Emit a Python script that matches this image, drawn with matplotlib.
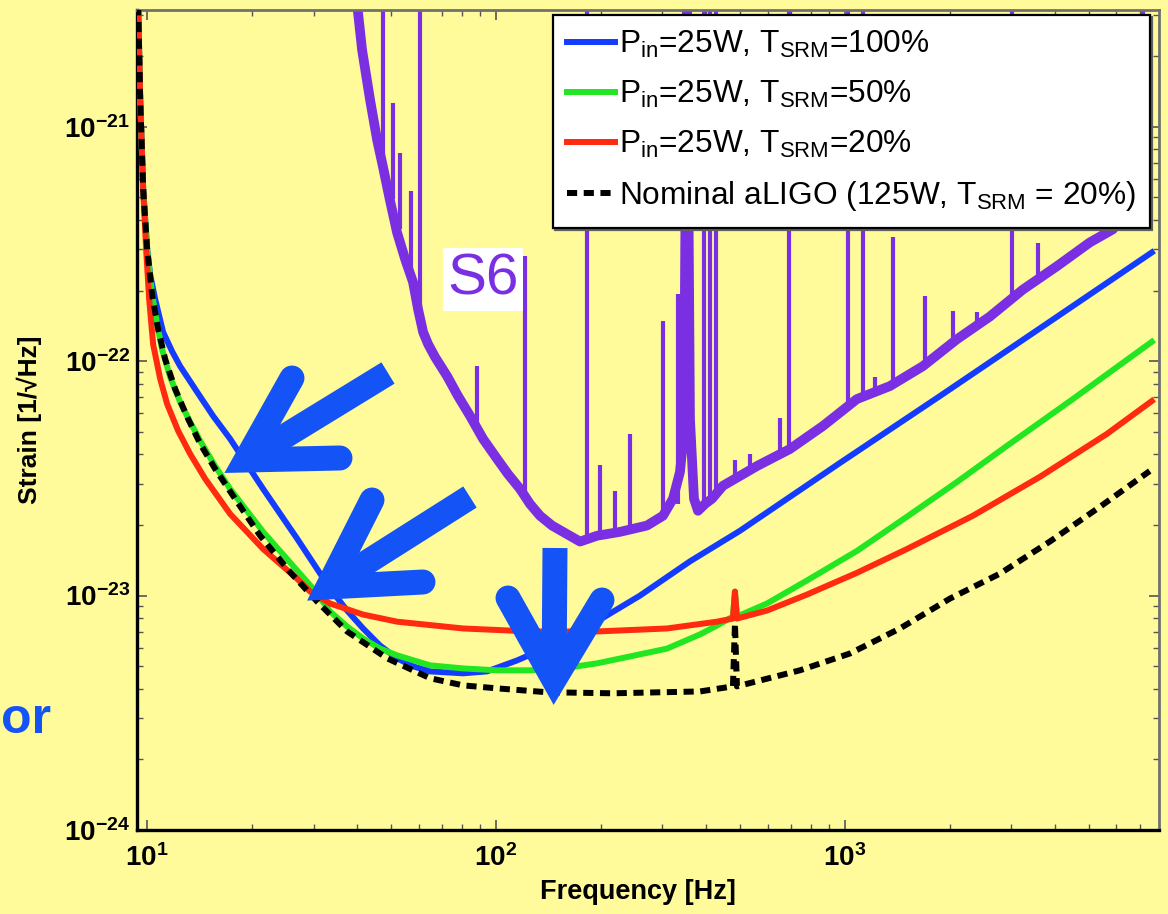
import numpy as np
import matplotlib.pyplot as plt
from matplotlib.lines import Line2D

plt.rcParams['font.family'] = ['Liberation Sans', 'DejaVu Sans']
plt.rcParams['mathtext.fontset'] = 'custom'
plt.rcParams['mathtext.rm'] = 'Liberation Sans'
plt.rcParams['mathtext.it'] = 'Liberation Sans:italic'
plt.rcParams['mathtext.bf'] = 'Liberation Sans:bold'

# noise curves (frequency in Hz, strain in 1/rtHz)
blue_f = [9.42, 9.55, 9.74, 10.0, 10.20, 10.54, 11.11, 11.79, 12.43, 13.91, 15.46, 17.29, 21.50, 26.90,
          33.45, 37.42, 41.58, 46.52, 52.03, 57.83, 64.71, 80.43, 94.23, 114.9, 127.6, 155.6, 198.6,
          258.6, 359.7, 500.2, 967.6, 1872, 3621, 7581]
blue_h = [3.3e-21, 1.30e-21, 5.40e-22, 3.00e-22, 2.34e-22, 1.84e-22, 1.33e-22, 1.10e-22, 9.52e-23,
          7.38e-23, 5.83e-23, 4.66e-23, 2.85e-23, 1.75e-23, 1.07e-23, 8.63e-24, 7.24e-24, 6.12e-24,
          5.40e-24, 4.99e-24, 4.75e-24, 4.66e-24, 4.75e-24, 5.29e-24, 5.66e-24, 6.56e-24, 7.90e-24,
          1.0e-23, 1.40e-23, 1.89e-23, 3.68e-23, 7.10e-23, 1.38e-22, 2.91e-22]

green_f = [9.42, 9.55, 9.74, 10.0, 10.33, 10.68, 11.04, 11.64, 12.43, 13.28, 14.19, 15.66, 17.29, 21.50,
           26.90, 29.90, 33.45, 37.42, 41.58, 46.52, 52.03, 64.71, 80.43, 100.7, 125.1, 155.6, 194.7,
           242.1, 309.0, 384.2, 429.8, 477.6, 484.0, 490.4, 597.7, 778.3, 1082, 1506, 2094, 2912,
           4501, 7581]
green_h = [3.3e-21, 1.30e-21, 5.40e-22, 3.00e-22, 1.93e-22, 1.44e-22, 1.12e-22, 8.55e-23, 6.69e-23,
           5.50e-23, 4.57e-23, 3.57e-23, 2.85e-23, 1.87e-23, 1.28e-23, 1.07e-23, 8.55e-24, 7.38e-24,
           6.56e-24, 5.94e-24, 5.56e-24, 5.04e-24, 4.89e-24, 4.80e-24, 4.80e-24, 4.89e-24, 5.14e-24,
           5.50e-24, 5.94e-24, 6.83e-24, 7.45e-24, 8.14e-24, 1.04e-23, 8.14e-24, 9.25e-24, 1.16e-23,
           1.55e-23, 2.17e-23, 3.05e-23, 4.35e-23, 6.89e-23, 1.21e-22]

red_f = [9.42, 9.55, 9.74, 9.93, 10.13, 10.40, 10.90, 11.41, 12.27, 13.28, 14.66, 17.29, 21.50, 26.90,
         29.31, 33.45, 41.58, 52.03, 80.43, 125.1, 194.7, 309.0, 429.8, 477.6, 484.0, 490.4, 597.7,
         778.3, 1082, 1506, 2327, 3621, 5632, 7581]
red_h = [3.3e-21, 1.30e-21, 5.40e-22, 3.00e-22, 1.84e-22, 1.18e-22, 8.38e-23, 6.56e-23, 5.04e-23,
         4.02e-23, 3.15e-23, 2.23e-23, 1.58e-23, 1.18e-23, 1.04e-23, 9.25e-24, 8.30e-24, 7.74e-24,
         7.24e-24, 7.03e-24, 7.03e-24, 7.24e-24, 7.74e-24, 7.98e-24, 1.04e-23, 7.98e-24, 8.63e-24,
         1.01e-23, 1.25e-23, 1.58e-23, 2.19e-23, 3.21e-23, 4.89e-23, 6.76e-23]

nominal_f = [9.42, 9.55, 9.74, 10.0, 10.33, 10.75, 11.26, 12.03, 13.02, 14.19, 15.66, 18.11, 21.08,
             25.68, 30.70, 37.42, 48.72, 64.71, 80.43, 100.7, 140.0, 216.4, 384.2, 477.6, 484.0, 490.4,
             743.2, 1033, 1438, 2000, 2780, 3867, 5379, 7478]
nominal_h = [3.3e-21, 1.30e-21, 5.40e-22, 3.00e-22, 1.93e-22, 1.37e-22, 1.02e-22, 7.60e-23, 5.78e-23,
             4.44e-23, 3.47e-23, 2.51e-23, 1.80e-23, 1.26e-23, 9.43e-24, 7.03e-24, 5.40e-24, 4.44e-24,
             4.14e-24, 4.02e-24, 3.87e-24, 3.83e-24, 3.90e-24, 4.10e-24, 7.60e-24, 4.10e-24, 4.80e-24,
             5.66e-24, 7.24e-24, 9.71e-24, 1.24e-23, 1.70e-23, 2.39e-23, 3.40e-23]

# S6 measured sensitivity: broadband floor + narrow lines
s6_f = [39.45, 41.3, 43.55, 45.6, 47.4, 49.6, 52.03, 54.9, 57.83, 59.8, 61.8, 63.9, 66.9, 72.4, 77.8,
        84.3, 91.8, 100.7, 108.2, 117.2, 125.1, 133.7, 144.7, 155.6, 174.1, 194.7, 226.6, 270.8,
        300.9, 321.5, 336.7, 345.7, 352.6, 359.7, 369.3, 379.2, 397.2, 415.9, 447.0, 559.8, 695.7,
        865.0, 1082, 1346, 1673, 2094, 2603, 3236, 4050, 5035, 5861, 6053]
s6_h = [4e-21, 2.13e-21, 1.30e-21, 8.81e-22, 6.76e-22, 4.89e-22, 3.54e-22, 2.72e-22, 2.17e-22,
        1.66e-22, 1.33e-22, 1.18e-22, 1.04e-22, 8.63e-23, 7.10e-23, 5.83e-23, 4.66e-23, 3.83e-23,
        3.30e-23, 2.85e-23, 2.46e-23, 2.19e-23, 1.99e-23, 1.87e-23, 1.70e-23, 1.80e-23, 1.87e-23,
        1.99e-23, 2.19e-23, 2.59e-23, 3.37e-23, 4.99e-23, 4e-21, 5.66e-23, 2.59e-23, 2.30e-23,
        2.46e-23, 2.59e-23, 2.94e-23, 3.57e-23, 4.22e-23, 5.29e-23, 6.89e-23, 7.83e-23, 9.52e-23,
        1.24e-22, 1.55e-22, 2.02e-22, 2.54e-22, 3.21e-22, 3.65e-22, 3.94e-22]

line_f = [47.5, 50.7, 53.1, 57.1, 60.6, 88.2, 121.1, 182.3, 198.6, 219.3, 242.1, 300.9, 332.3, 352.6,
          394.5, 410.5, 427.1, 483.8, 534.2, 651.3, 691.0, 1020, 1126, 1219, 1373, 1695, 2039, 2389,
          3009, 3573, 7143]
line_top = [5e-21, 1.26e-21, 7.7e-22, 5.3e-22, 5e-21, 9.5e-23, 2.8e-22, 5e-21, 3.6e-23, 2.8e-23,
            4.9e-23, 1.48e-22, 1.93e-22, 5e-21, 5e-21, 5e-21, 5e-21, 3.8e-23, 4.0e-23, 5.7e-23,
            5e-21, 5e-21, 5e-21, 8.6e-23, 3.4e-22, 1.89e-22, 1.63e-22, 1.62e-22, 5e-21, 3.2e-22, 5e-21]
line_base = [6.8e-22, 4.9e-22, 3.65e-22, 2.28e-22, 1.51e-22, 5.2e-23, 2.67e-23, 1.75e-23, 1.80e-23,
             1.84e-23, 1.89e-23, 2.19e-23, 2.46e-23, 4.66e-23, 2.34e-23, 2.46e-23, 2.67e-23, 3.08e-23,
             3.40e-23, 4.02e-23, 4.22e-23, 6.56e-23, 7.03e-23, 7.24e-23, 7.83e-23, 9.7e-23, 1.18e-22,
             1.37e-22, 1.87e-22, 2.28e-22, 4.23e-22]

labels = [r'P$_{\mathrm{in}}$=25W, T$_{\mathrm{SRM}}$=100%',
          r'P$_{\mathrm{in}}$=25W, T$_{\mathrm{SRM}}$=50%',
          r'P$_{\mathrm{in}}$=25W, T$_{\mathrm{SRM}}$=20%',
          r'Nominal aLIGO (125W, T$_{\mathrm{SRM}}$ = 20%)']

bg = '#FFFB9A'
arrow_col = '#1453F5'
purple = '#7B2FE2'

fig = plt.figure(figsize=(11.68, 9.14), dpi=100, facecolor=bg)
ax = fig.add_axes([0.1173, 0.0919, 0.875, 0.8972], facecolor=bg)

# S6 curve
ax.vlines(line_f, line_base, line_top, color=purple, lw=3.0, zorder=2)
ax.plot(s6_f, s6_h, color=purple, lw=7, solid_joinstyle='round', zorder=2)

ax.plot(blue_f, blue_h, color='#143CFF', lw=4.3, label=labels[0], zorder=3)
ax.plot(green_f, green_h, color='#22E622', lw=4.3, label=labels[1], zorder=3)
ax.plot(red_f, red_h, color='#FF2A10', lw=4.3, label=labels[2], zorder=3)
ax.plot(nominal_f, nominal_h, color='black', lw=4.3, ls=(0, (1.7, 1.1)), label=labels[3], zorder=4)

ax.set_xscale('log')
ax.set_yscale('log')
ax.set_xlim(9.35, 7950)
ax.set_ylim(1e-24, 3.15e-21)
ax.set_xticks([10, 100, 1000])
ax.set_yticks([1e-24, 1e-23, 1e-22, 1e-21])

ax.tick_params(which='both', direction='in', top=True, right=True, colors='#555555',
               labelcolor='black', labelsize=20)
ax.tick_params(which='major', length=7, width=1.2)
ax.tick_params(which='minor', length=4, width=1.0)
ax.tick_params(axis='x', pad=10)
ax.tick_params(axis='y', pad=5)
for lab in ax.get_xticklabels() + ax.get_yticklabels():
    lab.set_fontweight('bold')

for side in ['left', 'bottom']:
    ax.spines[side].set_color('black')
    ax.spines[side].set_linewidth(2.4)
for side in ['top', 'right']:
    ax.spines[side].set_color('#707070')
    ax.spines[side].set_linewidth(2.0)

ax.set_xlabel('Frequency [Hz]', fontsize=19.5, fontweight='bold')
ax.set_ylabel('Strain [1/\u221aHz]', fontsize=19, fontweight='bold')
ax.xaxis.set_label_coords(0.49, -0.06)
ax.yaxis.set_label_coords(-0.093, 0.5)

leg = ax.legend(loc='upper right', bbox_to_anchor=(0.991, 0.994), fontsize=22.8, frameon=True,
                fancybox=False, framealpha=1, edgecolor='black', handlelength=1.5,
                handletextpad=0.12, labelspacing=0.6, borderpad=0.45, borderaxespad=0,
                shadow={'ox': 1.5, 'oy': -1.5, 'color': '#606060', 'alpha': 1})
leg.get_frame().set_linewidth(1.6)
leg.set_zorder(10)

ax.text(91.9, 2.23e-22, 'S6', color=purple, fontsize=42, ha='center', va='center', zorder=5,
        bbox=dict(facecolor='white', edgecolor='none', pad=3))

# big blue arrows drawn over the plot (figure pixel positions)
W, H = 1168.0, 914.0
arrows = [
    # tail, head vertex, arm end 1, arm end 2
    ((388, 373), (246, 460), (292, 378), (340, 458)),
    ((470, 497), (328, 587), (372, 500), (423, 582)),
    ((555, 548), (554, 680), (508, 598), (602, 600)),
]
for tail, vert, a1, a2 in arrows:
    shaft = Line2D([tail[0] / W, vert[0] / W], [1 - tail[1] / H, 1 - vert[1] / H],
                   transform=fig.transFigure, color=arrow_col, lw=18, solid_capstyle='butt', zorder=20)
    head = Line2D([a1[0] / W, vert[0] / W, a2[0] / W], [1 - a1[1] / H, 1 - vert[1] / H, 1 - a2[1] / H],
                  transform=fig.transFigure, color=arrow_col, lw=18, solid_capstyle='round',
                  solid_joinstyle='miter', zorder=21)
    fig.add_artist(shaft)
    fig.add_artist(head)

fig.text(1 / W, 1 - 733 / H, 'or', color=arrow_col, fontsize=36, fontweight='bold',
         ha='left', va='baseline')

fig.savefig('out.png', dpi=100, facecolor=bg)
